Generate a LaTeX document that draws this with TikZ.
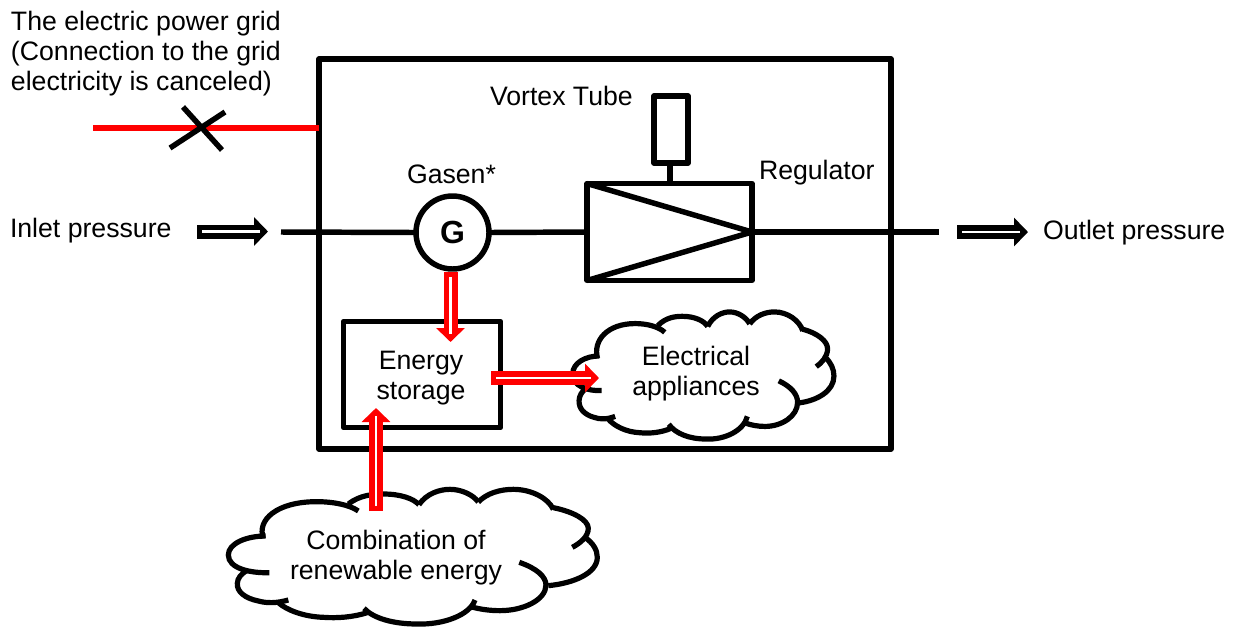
\documentclass[tikz,border=0pt]{standalone}
\usepackage{fontspec}
\setmainfont{Liberation Sans}
\usetikzlibrary{arrows.meta}
\newcommand{\cloudoutline}{
  \draw[cloudline] (130,415) .. controls (110,360) and (170,305) .. (290,305) .. controls (340,305) and (390,315) .. (415,333);
  \draw[cloudline] (385,312) .. controls (420,285) and (460,282) .. (490,282) .. controls (540,282) and (580,295) .. (597,314);
  \draw[cloudline] (597,314) .. controls (620,280) and (660,268) .. (690,268) .. controls (725,268) and (760,285) .. (775,306);
  \draw[cloudline] (775,306) .. controls (800,280) and (840,268) .. (880,268) .. controls (935,268) and (985,295) .. (1000,328);
  \draw[cloudline] (1000,323) .. controls (1060,335) and (1105,360) .. (1105,385) .. controls (1105,410) and (1080,430) .. (1057,442);
  \draw[cloudline] (1095,412) .. controls (1120,430) and (1132,450) .. (1132,472) .. controls (1132,520) and (1060,550) .. (985,557);
  \draw[cloudline] (898,487) .. controls (950,505) and (978,530) .. (978,555) .. controls (978,600) and (910,632) .. (840,632) .. controls (810,632) and (780,628) .. (752,620);
  \draw[cloudline] (765,600) .. controls (750,645) and (670,675) .. (590,672) .. controls (520,672) and (460,655) .. (432,625);
  \draw[cloudline] (445,637) .. controls (400,652) and (350,655) .. (310,652) .. controls (250,650) and (200,630) .. (175,608);
  \draw[cloudline] (205,600) .. controls (170,610) and (140,610) .. (115,603) .. controls (75,595) and (50,575) .. (52,550) .. controls (52,535) and (65,520) .. (80,512);
  \draw[cloudline] (148,518) .. controls (90,520) and (25,505) .. (25,465) .. controls (25,430) and (80,408) .. (137,408);
}
\tikzset{
  wire/.style={line width=4.1pt,line cap=butt},
  boxed/.style={draw,line width=4.1pt,rectangle,inner sep=0pt,outer sep=0pt,line join=round},
  cloudline/.style={line width=3.9pt,line cap=butt},
  lab/.style={font=\fontsize{20pt}{22.5pt}\selectfont,inner sep=0pt,outer sep=0pt},
  hollow/.style={line width=10.5pt,draw=#1,
    -{Triangle[length=10.5pt,width=21pt,fill=#1,color=#1]},
    postaction={draw=white,line width=#1 hollow gap,-,shorten >=6pt,shorten <=3.75pt}},
}
\tikzset{
  red hollow gap/.style={},
}
\def\gapw{2pt}
\tikzset{
  hollow/.style={line width=10.5pt,draw=#1,
    -{Triangle[length=10.5pt,width=21pt,fill=#1,color=#1]},
    postaction={draw=white,line width=\gapw,-,shorten >=6pt,shorten <=3.75pt}},
}
\begin{document}
\begin{tikzpicture}[x=0.75pt,y=-0.75pt]
\useasboundingbox (0,0) rectangle (1234,626);
% outer box
\node[boxed,minimum width=572*0.75pt,minimum height=390*0.75pt] (plant) at (605,254) {};
% grid line
\coordinate (gridstart) at (93,128);
\coordinate (gridend) at (plant.west |- gridstart);
\draw[wire,red] (gridstart) -- (gridend);
\coordinate (xa) at (170,148);
\coordinate (xb) at (225,112);
\coordinate (xc) at (183,107);
\coordinate (xd) at (222,150);
\draw[wire] (xa) -- (xb);
\draw[wire] (xc) -- (xd);
% main line parts
\node[boxed,circle,fill=white,minimum size=73*0.75pt,font=\fontsize{24pt}{26pt}\selectfont\bfseries] (gen) at (452.5,232.5) {G};
\node[boxed,minimum width=165*0.75pt,minimum height=97*0.75pt] (reg) at (669.5,232) {};
\node[boxed,minimum width=34*0.75pt,minimum height=67*0.75pt] (tube) at (671,129.5) {};
\draw[wire] (tube.south -| 670,0) -- (reg.north -| 670,0);
\coordinate (linestart) at (281,232);
\coordinate (lineend) at (939,232);
\draw[wire] (linestart) -- (gen.west);
\draw[wire] (gen.east) -- (reg.west);
\draw[wire] (reg.east) -- (lineend);
\draw[wire,line join=miter] (reg.north west) -- (reg.east) -- (reg.south west);
% storage
\node[boxed,minimum width=157*0.75pt,minimum height=106*0.75pt] (store) at (422,374.5) {};
% clouds
\begin{scope}[shift={(566.8,227.6)},xscale=0.236,yscale=0.3146]
\cloudoutline
\end{scope}
\begin{scope}[shift={(220,400)},xscale=0.3333,yscale=0.3333]
\cloudoutline
\end{scope}
% labels
\node[lab,anchor=base west,align=left] (gridlabel) at (11,90) {The electric power grid\\(Connection to the grid\\electricity is canceled)};
\node[lab,anchor=base west] (vortex) at (490,105) {Vortex Tube};
\node[lab,anchor=base west] (gasen) at (407,183) {Gasen*};
\node[lab,anchor=base west] (regulator) at (759,179) {Regulator};
\node[lab,anchor=base west] (inlet) at (10,237) {Inlet pressure};
\node[lab,anchor=base west] (outlet) at (1043,239) {Outlet pressure};
\node[lab,align=center] (storetext) at (421,378) {Energy\\storage};
\node[lab,align=center] (elec) at (696,374) {Electrical\\appliances};
\node[lab,align=center] (renew) at (396,558) {Combination of\\renewable energy};
% arrows
\coordinate (ina) at (197,231.5);
\coordinate (inb) at (268,231.5);
\coordinate (outa) at (957,232);
\coordinate (outb) at (1028,232);
\draw[hollow=black] (ina) -- (inb);
\draw[hollow=black] (outa) -- (outb);
\coordinate (ra) at (450.5,272);
\coordinate (rb) at (450.5,342);
\draw[hollow=red] (ra) -- (rb);
\coordinate (rc) at (491,378);
\coordinate (rd) at (599,378);
\draw[hollow=red] (rc) -- (rd);
\coordinate (re) at (376,511);
\coordinate (rf) at (376,408);
\draw[hollow=red] (re) -- (rf);
\end{tikzpicture}
\end{document}
